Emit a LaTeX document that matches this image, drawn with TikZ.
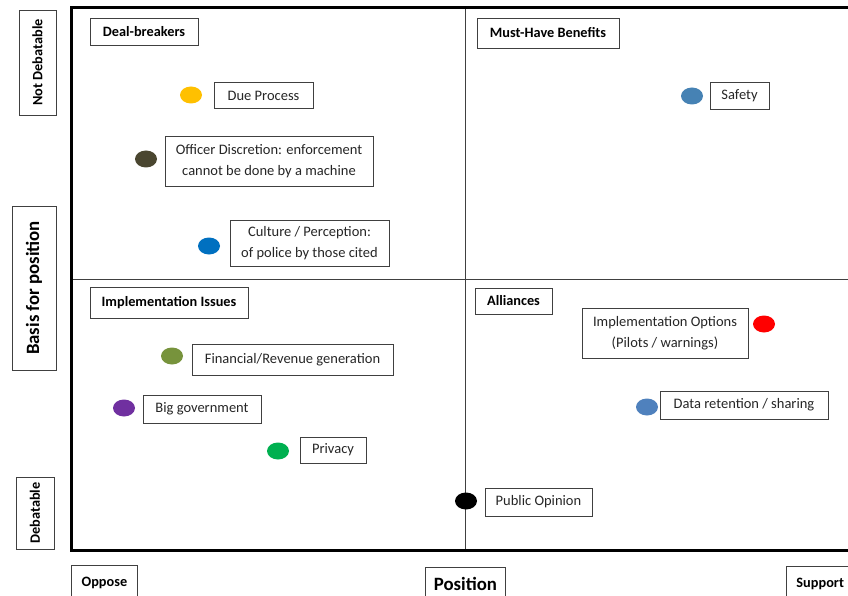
\documentclass[tikz,border=0pt]{standalone}
\usepackage{fontspec}
\setmainfont{Carlito}
\usetikzlibrary{shapes.geometric}
\definecolor{dpyellow}{HTML}{FFC000}
\definecolor{odolive}{HTML}{4A4630}
\definecolor{cpblue}{HTML}{0070C0}
\definecolor{frgreen}{HTML}{77933C}
\definecolor{bgpurple}{HTML}{7030A0}
\definecolor{pvgreen}{HTML}{00B050}
\definecolor{sfblue}{HTML}{4682B4}
\definecolor{drblue}{HTML}{4F81BD}
\definecolor{iored}{HTML}{FF0000}
\definecolor{boxline}{HTML}{404040}
\definecolor{txt}{HTML}{262626}
\tikzset{
  lbl/.style={draw=boxline, line width=0.9pt, fill=white, inner sep=2pt, align=center, text=txt, font=\fontsize{14.5}{21}\selectfont},
  qlbl/.style={lbl, text=black, font=\bfseries\fontsize{14.3}{16}\selectfont},
  axlbl/.style={lbl, text=black, font=\bfseries\fontsize{14.3}{16}\selectfont},
  biglbl/.style={lbl, text=black, font=\bfseries\fontsize{18.8}{20}\selectfont},
  dot/.style={ellipse, inner sep=0pt, minimum width=22pt, minimum height=17pt, draw=none},
}
\begin{document}
\begin{tikzpicture}[x=1pt,y=-1pt]
\useasboundingbox (0,0) rectangle (848,596);
\clip (0,0) rectangle (848,596);
\fill[white] (0,0) rectangle (848,596);
% frame corners
\coordinate (tl) at (71,8);
\coordinate (tr) at (860,8);
\coordinate (bl) at (71,550);
\coordinate (br) at (860,550);
\coordinate (vt) at (465,8);
\coordinate (vb) at (465,550);
\coordinate (hl) at (71,279);
\coordinate (hr) at (860,279);
\draw[boxline, line width=1pt] (vt) -- (vb);
\draw[boxline, line width=1pt] (hl) -- (hr);
\draw[black, line width=3pt] (tr) -- (tl) -- (bl) -- (br);
% axis labels
\node[axlbl, rotate=90, minimum width=105pt, minimum height=37pt] (notdeb) at (37.5,62.5) {Not Debatable};
\node[biglbl, rotate=90, minimum width=164pt, minimum height=44pt] (basis) at (34,288) {Basis for position};
\node[axlbl, rotate=90, minimum width=72pt, minimum height=38pt] (deb) at (35,513) {Debatable};
\node[axlbl, minimum width=66pt, minimum height=34pt, anchor=north west] (oppose) at (71,565) {Oppose};
\node[biglbl, minimum width=80pt, minimum height=34pt, anchor=north west] (position) at (425,567) {Position};
\node[axlbl, minimum height=34pt, anchor=north west, inner xsep=10pt] (support) at (786,566) {Support};
% quadrant labels
\node[qlbl, minimum width=108pt, minimum height=27pt] (deal) at (144,31.5) {Deal-breakers};
\node[qlbl, minimum width=142pt, minimum height=30pt] (must) at (548,33) {Must-Have Benefits};
\node[qlbl, minimum width=158pt, minimum height=31pt] (impl) at (169,302.5) {Implementation Issues};
\node[qlbl, minimum width=77pt, minimum height=26pt] (alli) at (513.5,301) {Alliances};
% items
\node[dot, fill=dpyellow] (d1) at (191,95) {};
\node[lbl, minimum width=99pt, minimum height=26pt] (b1) at (263.5,95.5) {Due Process};
\node[dot, fill=odolive] (d2) at (146,159) {};
\node[lbl, minimum width=208pt, minimum height=50pt] (b2) at (269,161) {Officer Discretion: enforcement\\cannot be done by a machine};
\node[dot, fill=cpblue] (d3) at (209,246) {};
\node[lbl, minimum width=159pt, minimum height=46pt] (b3) at (309.5,243) {Culture / Perception:\\of police by those cited};
\node[dot, fill=frgreen] (d4) at (172,356) {};
\node[lbl, minimum width=201pt, minimum height=31pt] (b4) at (292.5,359.5) {Financial/Revenue generation};
\node[dot, fill=bgpurple] (d5) at (124,408) {};
\node[lbl, minimum width=118pt, minimum height=28pt] (b5) at (202,409) {Big government};
\node[dot, fill=pvgreen] (d6) at (278,451) {};
\node[lbl, minimum width=66pt, minimum height=26pt] (b6) at (333,450) {Privacy};
\node[dot, fill=sfblue] (d7) at (692,96) {};
\node[lbl, minimum width=59pt, minimum height=27pt] (b7) at (739.5,95.5) {Safety};
\node[lbl, minimum width=166pt, minimum height=50pt] (b8) at (665,333) {Implementation Options\\(Pilots / warnings)};
\node[dot, fill=iored] (d8) at (764,324) {};
\node[dot, fill=drblue] (d9) at (647,407) {};
\node[lbl, minimum width=168pt, minimum height=28pt] (b9) at (744,405) {Data retention / sharing};
\node[dot, fill=black] (d10) at (466,501) {};
\node[lbl, minimum width=107pt, minimum height=28pt] (b10) at (538.5,502) {Public Opinion};
\end{tikzpicture}
\end{document}
